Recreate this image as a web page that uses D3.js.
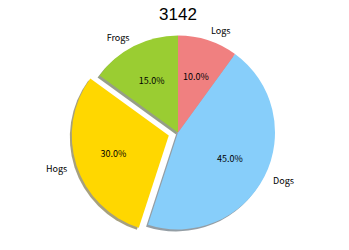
<!DOCTYPE html>
<html>
<head>
<meta charset="utf-8">
<script src="https://cdn.jsdelivr.net/npm/d3@7"></script>
<style>
  body { margin: 0; background: #fff; }
  text { font-family: "Noto Sans CJK SC", "DejaVu Sans", sans-serif; }
</style>
</head>
<body>
<svg id="chart" width="349" height="250"></svg>
<script>
// pie data
const labels = ['Frogs', 'Hogs', 'Dogs', 'Logs'];
const sizes = [15, 30, 45, 10];
const colors = ['yellowgreen', 'gold', 'lightskyblue', 'lightcoral'];
const explode = [0, 0.1, 0, 0];
const title = '3142';

const width = 349;
const height = 250;
const cx = 178;
const cy = 132.5;
const radius = 97;

const svg = d3.select('#chart');

// matplotlib style: start at 90deg, counter-clockwise
// d3 angles: 0 at top, clockwise -> negate
const pie = d3.pie()
  .sort(null)
  .value(d => d)
  .startAngle(0)
  .endAngle(-2 * Math.PI);

const arcs = pie(sizes);

const arcGen = d3.arc()
  .innerRadius(0)
  .outerRadius(radius);

// offset for each wedge (explode)
const offset = (d, i) => {
  const mid = (d.startAngle + d.endAngle) / 2;
  const dist = explode[i] * radius;
  return [Math.sin(mid) * dist, -Math.cos(mid) * dist];
};

const g = svg.append('g')
  .attr('transform', `translate(${cx},${cy})`);

// shadows
g.selectAll('path.shadow')
  .data(arcs)
  .enter()
  .append('path')
  .attr('class', 'shadow')
  .attr('d', arcGen)
  .attr('transform', (d, i) => {
    const [dx, dy] = offset(d, i);
    return `translate(${dx - 0.02 * radius},${dy + 0.02 * radius})`;
  })
  .attr('fill', (d, i) => {
    const c = d3.rgb(colors[i]);
    return d3.rgb(c.r * 0.3, c.g * 0.3, c.b * 0.3);
  })
  .attr('opacity', 0.5);

// wedges
g.selectAll('path.wedge')
  .data(arcs)
  .enter()
  .append('path')
  .attr('class', 'wedge')
  .attr('d', arcGen)
  .attr('transform', (d, i) => {
    const [dx, dy] = offset(d, i);
    return `translate(${dx},${dy})`;
  })
  .attr('fill', (d, i) => colors[i]);

// labels
g.selectAll('text.label')
  .data(arcs)
  .enter()
  .append('text')
  .attr('class', 'label')
  .text((d, i) => labels[i])
  .attr('x', (d, i) => offset(d, i)[0] + Math.sin((d.startAngle + d.endAngle) / 2) * radius * 1.1)
  .attr('y', (d, i) => offset(d, i)[1] - Math.cos((d.startAngle + d.endAngle) / 2) * radius * 1.1)
  .attr('text-anchor', d => (Math.sin((d.startAngle + d.endAngle) / 2) < 0 ? 'end' : 'start'))
  .attr('dy', '0.35em')
  .attr('font-size', '9px')
  .attr('fill', '#000');

// percentages
g.selectAll('text.pct')
  .data(arcs)
  .enter()
  .append('text')
  .attr('class', 'pct')
  .text(d => d3.format('.1f')(d.value) + '%')
  .attr('x', (d, i) => offset(d, i)[0] + Math.sin((d.startAngle + d.endAngle) / 2) * radius * 0.6)
  .attr('y', (d, i) => offset(d, i)[1] - Math.cos((d.startAngle + d.endAngle) / 2) * radius * 0.6)
  .attr('text-anchor', 'middle')
  .attr('dy', '0.35em')
  .attr('font-size', '9px')
  .attr('fill', '#000');

// title
svg.append('text')
  .text(title)
  .attr('x', cx)
  .attr('y', 20)
  .attr('text-anchor', 'middle')
  .attr('font-size', '17px')
  .style('font-family', '"Liberation Sans", Arial, sans-serif')
  .attr('fill', '#000');
</script>
</body>
</html>
